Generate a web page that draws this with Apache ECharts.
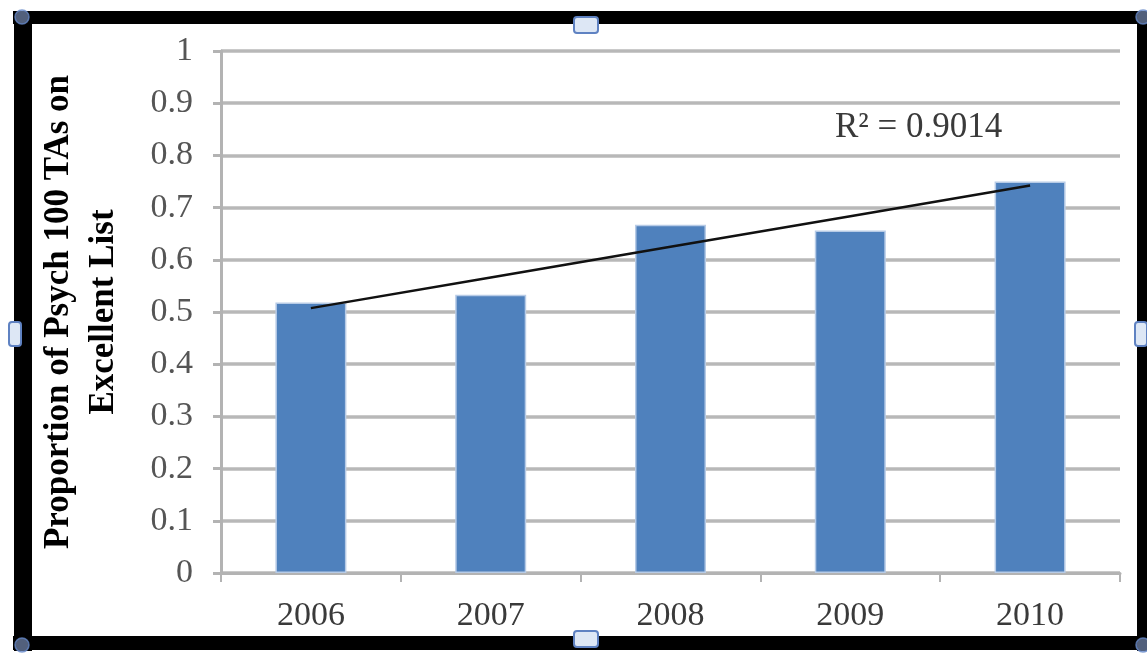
<!DOCTYPE html>
<html>
<head>
<meta charset="utf-8">
<script src="https://cdn.jsdelivr.net/npm/echarts@6/dist/echarts.min.js"></script>
<style>
  html, body { margin: 0; padding: 0; background: #ffffff; }
  #chart { width: 1147px; height: 655px; }
</style>
</head>
<body>
<div id="chart"></div>
<script>
// ---- data ----
const categories = ['2006', '2007', '2008', '2009', '2010'];
const proportions = [0.518, 0.533, 0.667, 0.656, 0.75];
const yTicks = { min: 0, max: 1, interval: 0.1 };
const yTitleLines = ['Proportion of Psych 100 TAs on', 'Excellent List'];
const rSquaredLabel = 'R\u00b2 = 0.9014';

// linear trendline (least squares over category index), as the spreadsheet draws it
function linearTrend(values) {
  const n = values.length;
  const xs = values.map((_, i) => i + 1);
  const mx = xs.reduce((a, b) => a + b, 0) / n;
  const my = values.reduce((a, b) => a + b, 0) / n;
  let sxy = 0, sxx = 0;
  for (let i = 0; i < n; i++) { sxy += (xs[i] - mx) * (values[i] - my); sxx += (xs[i] - mx) ** 2; }
  const slope = sxy / sxx;
  return xs.map(x => my + slope * (x - mx));
}
const trend = linearTrend(proportions);

const chart = echarts.init(document.getElementById('chart'), null, { renderer: 'canvas' });
const serif = '"Liberation Serif", "DejaVu Serif", serif';

function handle(x, y, w, h) {
  return {
    type: 'rect', z: 100,
    shape: { x: x, y: y, width: w, height: h, r: 3 },
    style: { fill: '#dde7f5', stroke: '#5f82c2', lineWidth: 2 }
  };
}
function corner(cx, cy) {
  return {
    type: 'circle', z: 99,
    shape: { cx: cx, cy: cy, r: 7 },
    style: { fill: 'rgba(150,175,225,0.55)', stroke: 'rgba(100,135,200,0.8)', lineWidth: 1.5 }
  };
}

chart.setOption({
  animation: false,
  backgroundColor: '#ffffff',
  grid: { left: 221, right: 27, top: 51, bottom: 82, containLabel: false },
  xAxis: {
    type: 'category',
    data: categories,
    boundaryGap: true,
    axisLine: { show: true, lineStyle: { color: '#b3b3b3', width: 3 } },
    axisTick: { show: true, alignWithLabel: false, length: 9, lineStyle: { color: '#b3b3b3', width: 2 } },
    axisLabel: { color: '#3a3a3a', fontFamily: serif, fontSize: 34, margin: 26 },
    splitLine: { show: false }
  },
  yAxis: {
    type: 'value',
    min: yTicks.min, max: yTicks.max, interval: yTicks.interval,
    axisLine: { show: true, lineStyle: { color: '#b3b3b3', width: 3 } },
    axisTick: { show: true, length: 8, lineStyle: { color: '#b3b3b3', width: 3 } },
    axisLabel: {
      color: '#555555', fontFamily: serif, fontSize: 34, margin: 28,
      formatter: v => String(Math.round(v * 10) / 10)
    },
    splitLine: { show: true, lineStyle: { color: '#b8b8b8', width: 3.5 } },
    name: yTitleLines.join('\n'),
    nameLocation: 'middle',
    nameGap: 95,
    nameRotate: 90,
    nameTextStyle: { color: '#000000', fontFamily: serif, fontWeight: 'bold', fontSize: 35, lineHeight: 45 }
  },
  series: [
    {
      type: 'bar',
      data: proportions,
      barWidth: 71,
      itemStyle: { color: '#4f81bd', borderColor: '#b7cbe6', borderWidth: 1.5 },
      z: 2
    },
    {
      type: 'line',
      data: trend,
      symbol: 'none',
      smooth: false,
      lineStyle: { color: '#111111', width: 2.5 },
      z: 3
    }
  ],
  graphic: [
    // thick black frame of the embedded chart object
    { type: 'rect', z: 90, shape: { x: 13, y: 11, width: 1140, height: 13 }, style: { fill: '#000' } },
    { type: 'rect', z: 90, shape: { x: 14, y: 11, width: 18, height: 640 }, style: { fill: '#000' } },
    { type: 'rect', z: 90, shape: { x: 13, y: 636, width: 1140, height: 14 }, style: { fill: '#000' } },
    { type: 'rect', z: 90, shape: { x: 1137, y: 11, width: 14, height: 640 }, style: { fill: '#000' } },
    // selection handles
    corner(22, 17), corner(22, 645), corner(1143, 17), corner(1143, 645),
    handle(574, 17, 24, 16),
    handle(574, 631, 24, 16),
    handle(9, 322, 12, 24),
    handle(1135, 322, 12, 24),
    // R squared label
    {
      type: 'text', z: 95, left: 835, top: 110,
      style: { text: rSquaredLabel, fill: '#3a3a3a', font: '35px ' + serif }
    }
  ]
});
</script>
</body>
</html>
